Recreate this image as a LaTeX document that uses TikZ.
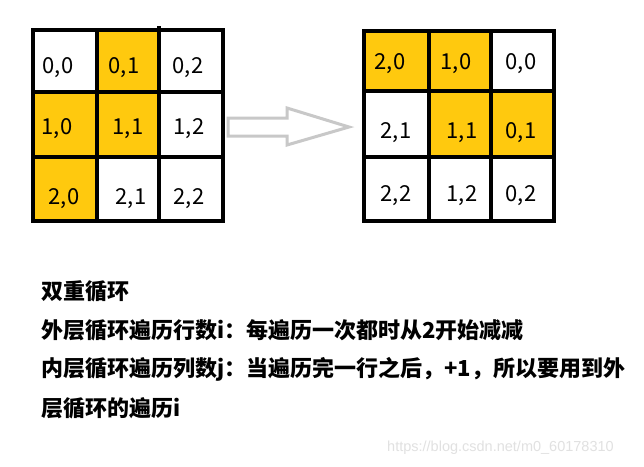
\documentclass[tikz,border=0pt]{standalone}
\usepackage{fontspec}
\newfontfamily\cjk{Noto Sans CJK SC}
\newfontfamily\wmfont{Liberation Sans}
\definecolor{cellyellow}{RGB}{255,201,14}
\definecolor{arrowgray}{RGB}{200,200,200}
\definecolor{wmgray}{RGB}{225,225,225}
\tikzset{
  gridline/.style={line width=4pt, black},
  cellfill/.style={fill=cellyellow},
  celltext/.style={font=\cjk\fontsize{22}{24}\selectfont, inner sep=0pt},
  bodytext/.style={font=\cjk\bfseries\fontsize{22}{24}\selectfont, anchor=west, inner sep=0pt},
  arrowshape/.style={draw=arrowgray, line width=3pt, fill=white, line join=miter},
}
\begin{document}
\begin{tikzpicture}[x=1pt,y=-1pt]
\useasboundingbox (0,0) rectangle (644,466);
\fill[white] (0,0) rectangle (644,466);
% left grid fills
\fill[cellfill] (97,30) rectangle (159,92);
\fill[cellfill] (33,92) rectangle (159,157);
\fill[cellfill] (33,157) rectangle (97,221);
% left grid lines
\draw[gridline] (33,30) rectangle (223,221);
\draw[gridline] (97,30) -- (97,221);
\draw[gridline] (159,26) -- (159,221);
\draw[gridline] (33,92) -- (223,92);
\draw[gridline] (33,157) -- (223,157);
% left labels
\node[celltext] (l00) at (58,68) {0,0};
\node[celltext] (l01) at (124,68) {0,1};
\node[celltext] (l02) at (188,68) {0,2};
\node[celltext] (l10) at (57,129) {1,0};
\node[celltext] (l11) at (128,129) {1,1};
\node[celltext] (l12) at (189,129) {1,2};
\node[celltext] (l20) at (64,199) {2,0};
\node[celltext] (l21) at (131,199) {2,1};
\node[celltext] (l22) at (189,199) {2,2};
% right grid fills
\fill[cellfill] (364,31) rectangle (491,91);
\fill[cellfill] (429,91) rectangle (554,157);
% right grid lines
\draw[gridline] (364,31) rectangle (554,221);
\draw[gridline] (429,31) -- (429,221);
\draw[gridline] (491,31) -- (491,221);
\draw[gridline] (364,91) -- (554,91);
\draw[gridline] (364,157) -- (554,157);
% right labels
\node[celltext] (r20) at (390,64) {2,0};
\node[celltext] (r10) at (456,64) {1,0};
\node[celltext] (r00) at (521,64) {0,0};
\node[celltext] (r21) at (396,133) {2,1};
\node[celltext] (r11) at (462,133) {1,1};
\node[celltext] (r01) at (521,133) {0,1};
\node[celltext] (r22) at (396,196) {2,2};
\node[celltext] (r12) at (462,196) {1,2};
\node[celltext] (r02) at (521,196) {0,2};
% big arrow
\draw[arrowshape] (228,118) -- (287,118) -- (287,108) -- (349,127) -- (287,145) -- (287,136) -- (228,136) -- cycle;
% body text
\node[bodytext] (t1) at (41,291) {双重循环};
\node[bodytext] (t2) at (41,330) {外层循环遍历行数i：每遍历一次都时从2开始减减};
\node[bodytext] (t3) at (41,369) {内层循环遍历列数j：当遍历完一行之后，+1，所以要用到外};
\node[bodytext] (t4) at (41,408) {层循环的遍历i};
% watermark
\node[font=\wmfont\fontsize{14.5}{16}\selectfont, text=wmgray, anchor=west, inner sep=0pt] (wm) at (387,448) {https://blog.csdn.net/m0\_60178310};
\end{tikzpicture}
\end{document}
